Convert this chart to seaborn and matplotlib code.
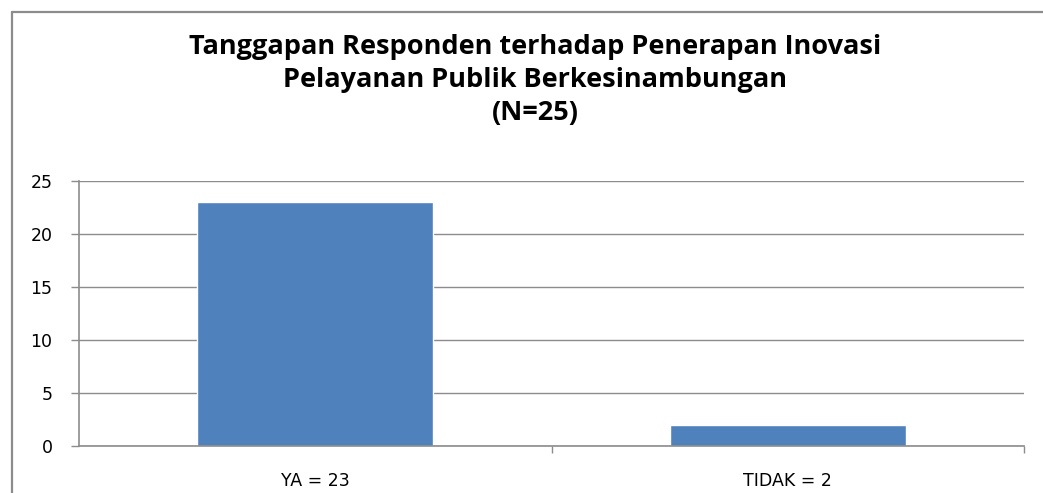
import matplotlib
matplotlib.use("Agg")
import matplotlib.pyplot as plt
import seaborn as sns
import pandas as pd
from matplotlib.lines import Line2D

categories = ["YA = 23", "TIDAK = 2"]
values = [23, 2]
yticks = [0, 5, 10, 15, 20, 25]
title = "Tanggapan Responden terhadap Penerapan Inovasi\nPelayanan Publik Berkesinambungan\n(N=25)"

sns.set_theme(style="white")
plt.rcParams['font.family'] = ['DejaVu Sans']

W, H = 1043, 493
fig = plt.figure(figsize=(W / 100, H / 100), dpi=100)
ax = fig.add_axes([79 / W, 47 / H, (1024 - 79) / W, (446 - 181) / H])

df = pd.DataFrame({"cat": categories, "val": values})
sns.barplot(data=df, x="cat", y="val", ax=ax, color="#4F81BD", saturation=1, width=0.5)

ax.set_ylim(0, 25)
ax.set_xlim(-0.5, 1.5)
ax.set_yticks(yticks)
ax.set_yticklabels([str(t) for t in yticks], fontsize=12.5, color="#000000")
ax.set_xlabel("")
ax.set_ylabel("")
ax.grid(axis="y", color="#8c8c8c", linewidth=1.0)
ax.set_axisbelow(True)
for s in ["top", "right"]:
    ax.spines[s].set_visible(False)
for s in ["left", "bottom"]:
    ax.spines[s].set_color("#8c8c8c")
    ax.spines[s].set_linewidth(1.2)
ax.tick_params(axis="y", which="major", length=6, width=1, color="#8c8c8c", direction="out", left=True, pad=13)
ax.tick_params(axis="x", which="major", length=0, labelsize=12.5, pad=19, labelcolor="#000000")
ax.set_xticks([0.5, 1.5], minor=True)
ax.tick_params(axis="x", which="minor", length=5, width=1, color="#8c8c8c", direction="out", bottom=True)

fig.text(535 / W, 1 - 34 / H, title, ha="center", va="top", fontsize=19.5, fontweight="bold",
         family=["Open Sans", "DejaVu Sans"], linespacing=1.36, color="#000000")

# figure border (left and top visible)
fig.add_artist(Line2D([11.5 / W, 11.5 / W], [0, 1 - 11.5 / H], transform=fig.transFigure,
                      color="#8c8c8c", linewidth=1.6))
fig.add_artist(Line2D([11.5 / W, 1], [1 - 11.5 / H, 1 - 11.5 / H], transform=fig.transFigure,
                      color="#8c8c8c", linewidth=1.6))

fig.savefig("out.png", dpi=100, facecolor="white")
